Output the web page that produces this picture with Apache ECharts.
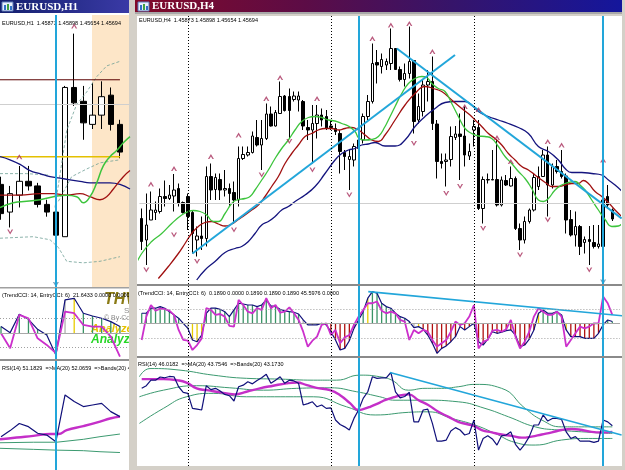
<!DOCTYPE html>
<html>
<head>
<meta charset="utf-8">
<script src="https://cdn.jsdelivr.net/npm/echarts@6/dist/echarts.min.js"></script>
<style>
    html, body { margin: 0; padding: 0; background: #d4d0c8; }
    #main { width: 625px; height: 470px; }
</style>
</head>
<body>
<div id="main"></div>
<script>
// ---------- EURUSD,H4 : candles [open, close, low, high] ----------
var h4Candles = [
    [1.4570, 1.4524, 1.4507, 1.4590], [1.4527, 1.4557, 1.4477, 1.4620], [1.4567, 1.4587, 1.4567, 1.4624], [1.4582, 1.4587, 1.4567, 1.4604],
    [1.4584, 1.4614, 1.4580, 1.4630], [1.4614, 1.4610, 1.4594, 1.4646], [1.4610, 1.4617, 1.4607, 1.4637], [1.4615, 1.4627, 1.4584, 1.4659],
    [1.4630, 1.4600, 1.4594, 1.4640], [1.4602, 1.4582, 1.4580, 1.4604], [1.4614, 1.4574, 1.4547, 1.4620], [1.4582, 1.4540, 1.4500, 1.4587],
    [1.4527, 1.4535, 1.4494, 1.4554], [1.4535, 1.4530, 1.4507, 1.4574], [1.4530, 1.4654, 1.4514, 1.4674], [1.4654, 1.4627, 1.4607, 1.4680],
    [1.4628, 1.4652, 1.4607, 1.4660], [1.4648, 1.4627, 1.4607, 1.4660], [1.4627, 1.4630, 1.4614, 1.4667], [1.4630, 1.4620, 1.4594, 1.4640],
    [1.4622, 1.4607, 1.4560, 1.4644], [1.4607, 1.4690, 1.4594, 1.4714], [1.4690, 1.4698, 1.4687, 1.4714], [1.4697, 1.4702, 1.4694, 1.4714],
    [1.4702, 1.4735, 1.4700, 1.4744], [1.4732, 1.4717, 1.4714, 1.4767], [1.4717, 1.4730, 1.4667, 1.4767], [1.4730, 1.4779, 1.4727, 1.4800],
    [1.4779, 1.4755, 1.4754, 1.4794], [1.4755, 1.4782, 1.4754, 1.4787], [1.4780, 1.4814, 1.4780, 1.4844], [1.4815, 1.4786, 1.4784, 1.4817],
    [1.4814, 1.4786, 1.4730, 1.4830], [1.4808, 1.4815, 1.4804, 1.4824], [1.4807, 1.4815, 1.4784, 1.4824], [1.4804, 1.4755, 1.4747, 1.4807],
    [1.4752, 1.4747, 1.4727, 1.4767], [1.4747, 1.4760, 1.4680, 1.4797], [1.4760, 1.4777, 1.4730, 1.4797], [1.4777, 1.4767, 1.4754, 1.4790],
    [1.4774, 1.4750, 1.4747, 1.4787], [1.4755, 1.4752, 1.4747, 1.4767], [1.4750, 1.4744, 1.4737, 1.4760], [1.4740, 1.4704, 1.4660, 1.4747],
    [1.4702, 1.4694, 1.4667, 1.4707], [1.4688, 1.4694, 1.4627, 1.4707], [1.4687, 1.4714, 1.4674, 1.4720], [1.4710, 1.4727, 1.4707, 1.4734],
    [1.4727, 1.4774, 1.4720, 1.4780], [1.4774, 1.4804, 1.4767, 1.4817], [1.4804, 1.4880, 1.4800, 1.4920], [1.4882, 1.4877, 1.4840, 1.4907],
    [1.4874, 1.4888, 1.4860, 1.4900], [1.4877, 1.4884, 1.4867, 1.4890], [1.4880, 1.4910, 1.4867, 1.4950], [1.4910, 1.4868, 1.4867, 1.4910],
    [1.4868, 1.4848, 1.4844, 1.4874], [1.4848, 1.4860, 1.4834, 1.4880], [1.4860, 1.4884, 1.4850, 1.4954], [1.4886, 1.4764, 1.4740, 1.4887],
    [1.4767, 1.4794, 1.4760, 1.4820], [1.4784, 1.4837, 1.4774, 1.4847], [1.4837, 1.4844, 1.4804, 1.4867], [1.4844, 1.4760, 1.4747, 1.4894],
    [1.4759, 1.4684, 1.4650, 1.4767], [1.4684, 1.4680, 1.4670, 1.4700], [1.4684, 1.4687, 1.4634, 1.4700], [1.4688, 1.4734, 1.4674, 1.4754],
    [1.4732, 1.4739, 1.4727, 1.4755], [1.4739, 1.4734, 1.4647, 1.4780], [1.4735, 1.4697, 1.4674, 1.4794], [1.4695, 1.4704, 1.4687, 1.4720],
    [1.4747, 1.4754, 1.4714, 1.4767], [1.4752, 1.4590, 1.4587, 1.4767], [1.4590, 1.4648, 1.4560, 1.4654], [1.4647, 1.4648, 1.4640, 1.4660],
    [1.4648, 1.4647, 1.4647, 1.4707], [1.4648, 1.4597, 1.4594, 1.4727], [1.4597, 1.4647, 1.4594, 1.4654], [1.4646, 1.4637, 1.4635, 1.4657],
    [1.4635, 1.4650, 1.4634, 1.4674], [1.4650, 1.4550, 1.4547, 1.4654], [1.4550, 1.4527, 1.4507, 1.4560], [1.4527, 1.4564, 1.4520, 1.4574],
    [1.4564, 1.4587, 1.4560, 1.4590], [1.4587, 1.4652, 1.4584, 1.4660], [1.4634, 1.4654, 1.4627, 1.4674], [1.4654, 1.4697, 1.4654, 1.4707],
    [1.4697, 1.4637, 1.4574, 1.4714], [1.4637, 1.4674, 1.4630, 1.4680], [1.4674, 1.4664, 1.4660, 1.4687], [1.4664, 1.4654, 1.4650, 1.4707],
    [1.4655, 1.4567, 1.4540, 1.4660], [1.4568, 1.4537, 1.4534, 1.4587], [1.4537, 1.4554, 1.4514, 1.4584], [1.4554, 1.4514, 1.4497, 1.4557],
    [1.4522, 1.4528, 1.4500, 1.4534], [1.4528, 1.4524, 1.4477, 1.4555], [1.4522, 1.4514, 1.4510, 1.4557], [1.4514, 1.4519, 1.4510, 1.4557],
    [1.4514, 1.4607, 1.4507, 1.4674], [1.4614, 1.4597, 1.4590, 1.4637], [1.4587, 1.4569, 1.4565, 1.4590]
];

// moving averages [bar, price]
var h4Green = [[-1.45, 1.4474], [0, 1.4500], [2.16, 1.4524], [4.33, 1.4540], [6.5, 1.4560], [8.67, 1.4577], [10.11, 1.4584], [11.19, 1.4586],
    [12.64, 1.4584], [14.08, 1.4577], [15.53, 1.4564], [16.61, 1.4564], [18.06, 1.4580], [19.5, 1.4600], [20.59, 1.4607], [22.39, 1.4610],
    [23.48, 1.4614], [24.56, 1.4627], [26.01, 1.4647], [27.45, 1.4667], [28.9, 1.4690], [30.34, 1.4710], [31.79, 1.4727], [33.23, 1.4747],
    [34.68, 1.4764], [36.12, 1.4772], [37.57, 1.4774], [39.01, 1.4772], [40.46, 1.4767], [41.9, 1.4765], [43.35, 1.4760], [44.79, 1.4755],
    [46.24, 1.4744], [47.11, 1.4730], [48.41, 1.4727], [49.85, 1.4728], [51.3, 1.4734], [52.74, 1.4754], [53.46, 1.4767], [54.91, 1.4794],
    [56.35, 1.4820], [57.8, 1.4840], [59.24, 1.4850], [60.69, 1.4854], [61.77, 1.4852], [62.85, 1.4840], [64.3, 1.4830], [65.74, 1.4824],
    [67.19, 1.4800], [68.63, 1.4774], [70.08, 1.4750], [71.52, 1.4740], [72.97, 1.4735], [74.41, 1.4734], [75.86, 1.4730], [77.3, 1.4714],
    [78.75, 1.4694], [80.19, 1.4680], [81.64, 1.4664], [83.08, 1.4650], [84.53, 1.4630], [85.97, 1.4607], [87.06, 1.4604], [88.14, 1.4610],
    [89.59, 1.4627], [91.03, 1.4637], [92.48, 1.4642], [93.92, 1.4644], [95.01, 1.4637], [96.09, 1.4627], [97.54, 1.4607], [98.98, 1.4587],
    [100.43, 1.4568], [101.87, 1.4554], [103.32, 1.4555], [104.4, 1.4564]];
var h4Red = [[3.61, 1.4450], [5.78, 1.4474], [7.94, 1.4500], [9.39, 1.4520], [10.83, 1.4540], [12.28, 1.4554], [13.72, 1.4562], [15.17, 1.4564],
    [16.61, 1.4559], [18.06, 1.4555], [19.5, 1.4559], [20.95, 1.4568], [22.39, 1.4577], [23.84, 1.4587], [25.28, 1.4597], [26.73, 1.4614],
    [28.17, 1.4634], [29.62, 1.4654], [31.06, 1.4680], [32.51, 1.4700], [33.95, 1.4717], [35.4, 1.4734], [36.84, 1.4740], [38.29, 1.4747],
    [39.73, 1.4750], [41.18, 1.4750], [42.62, 1.4747], [44.07, 1.4750], [45.51, 1.4752], [46.96, 1.4747], [48.41, 1.4737], [49.85, 1.4727],
    [51.3, 1.4724], [52.74, 1.4737], [54.91, 1.4767], [57.07, 1.4797], [59.24, 1.4820], [61.41, 1.4834], [63.21, 1.4830], [65.02, 1.4824],
    [67.19, 1.4807], [69.36, 1.4790], [71.16, 1.4777], [72.25, 1.4767], [73.69, 1.4754], [75.14, 1.4740], [76.58, 1.4730], [78.03, 1.4717],
    [79.47, 1.4700], [80.92, 1.4687], [82.36, 1.4674], [83.81, 1.4667], [85.25, 1.4657], [86.7, 1.4647], [87.78, 1.4640], [88.86, 1.4634],
    [90.31, 1.4634], [91.76, 1.4637], [93.2, 1.4640], [94.65, 1.4640], [95.73, 1.4646], [96.81, 1.4640], [98.26, 1.4624], [99.7, 1.4614],
    [101.15, 1.4602], [102.59, 1.4587], [104.04, 1.4574]];
var h4Navy = [[11.92, 1.4447], [13.72, 1.4467], [15.89, 1.4484], [18.06, 1.4502], [20.23, 1.4510], [21.67, 1.4514], [23.12, 1.4524],
    [24.56, 1.4540], [26.01, 1.4557], [27.45, 1.4564], [28.9, 1.4574], [30.34, 1.4587], [31.79, 1.4594], [33.23, 1.4604], [35.4, 1.4617],
    [37.57, 1.4634], [39.73, 1.4660], [41.9, 1.4687], [43.35, 1.4700], [44.79, 1.4707], [46.24, 1.4710], [47.68, 1.4717], [49.13, 1.4719],
    [50.57, 1.4722], [52.74, 1.4715], [54.91, 1.4715], [57.07, 1.4727], [59.24, 1.4754], [61.41, 1.4774], [63.58, 1.4790], [65.74, 1.4802],
    [67.91, 1.4804], [70.08, 1.4804], [71.52, 1.4797], [72.97, 1.4784], [75.14, 1.4774], [77.3, 1.4767], [79.47, 1.4760], [81.64, 1.4752],
    [83.81, 1.4740], [85.97, 1.4714], [88.14, 1.4704], [90.31, 1.4687], [91.76, 1.4670], [93.2, 1.4662], [95.37, 1.4662], [97.54, 1.4660],
    [99.7, 1.4657], [101.15, 1.4647], [102.59, 1.4637], [104.04, 1.4625]];

var h4FractalUp = [[2, 1.4639], [7, 1.4670], [15, 1.4694], [21, 1.4737], [27, 1.4810], [30, 1.4852], [38, 1.4810], [50, 1.4930],
    [54, 1.4957], [58, 1.4960], [63, 1.4904], [70, 1.4794], [73, 1.4788], [77, 1.4732], [80, 1.4684], [88, 1.4724], [91, 1.4717], [100, 1.4687]];
var h4FractalDown = [[1, 1.4467], [7, 1.4537], [12, 1.4484], [20, 1.4547], [26, 1.4657], [32, 1.4724], [37, 1.4667], [45, 1.4617],
    [59, 1.4720], [66, 1.4620], [69, 1.4634], [74, 1.4550], [82, 1.4497], [88, 1.4567], [97, 1.4467]];
var h4TrendUp = [[11, 1.4500], [67.9, 1.4897]];
var h4TrendDown = [[55.3, 1.4910], [104, 1.4570]];
var h4Separators = [10, 41, 72];
var h4BlueLines = [47, 100];
var h4Bid = 1.4569;
var h4LineArrow = [[100, 1.4443]];

// ---------- EURUSD,H4 : TrendCCI(14) / EntryCCI(6) ----------
var cciTrend = [69, 69, 104, 104, 115, 104, 80, 58, 35, 0, -35, -115, -127, -81, 69, 104, 104, 97, 80, 46,
    92, 138, 133, 126, 126, 115, 126, 161, 120, 115, 97, 85, 80, 76, 64, 23, -11, -11, -11, 0,
    -11, -58, -115, -184, -173, -120, -35, 23, 80, 173, 218, 207, 138, 115, 104, 69, 46, 35, 12, -30,
    -23, -41, -81, -138, -207, -173, -156, -127, -92, -23, -46, -23, 0, -127, -150, -110, -58, -69, -62, -51,
    -46, -81, -161, -150, -110, -46, 69, 92, 69, 69, 80, 58, -46, -92, -92, -92, -104, -104, -104, -69,
    -11, 23, 12];
var cciEntry = [-115, 46, 126, 87, 101, 97, 87, 58, -46, -115, -120, -184, -150, -104, 104, 92, 58, 64, 46, -18,
    -23, 161, 126, 80, 69, 104, 92, 173, 104, 126, 74, 80, 110, 69, 23, -58, -161, -120, -92, -11,
    0, -81, -46, -138, -97, -81, -11, 46, 92, 138, 138, 150, 87, 69, 80, 69, 23, 12, -115, -46,
    -69, -46, -58, -115, -161, -138, -115, -58, 12, -11, 0, 46, 126, -173, -127, -115, -51, -46, -58, -41,
    23, -92, -173, -127, -58, 46, 104, 80, 58, 58, 80, 46, -161, -115, -69, -23, -35, -23, 0, 0,
    184, 138, 58];
// histogram state per bar: g = up, r = down, y = change, x = neutral
var cciState = ['ggggggggg', 'xx', 'yyy', 'ggggggggggggggggggggg', 'xx', 'y', 'gg', 'x', 'rrrrrr', 'gg', 'y',
    'ggggggggg', 'x', 'y', 'rrrrrrrrrrrrrrrrrrrrrrrrr', 'y', 'ggggg', 'y', 'rrrrrrr', 'x', 'gg'].join('');
var cciTrendLine = [[49.1, 218], [104.4, 51]];

// ---------- EURUSD,H4 : RSI(14), MA(20), Bands(20) ----------
var rsiH4 = [60.2, 61.2, 63.3, 63.3, 64.5, 64.2, 64.7, 64.6, 60.8, 58.7, 58.3, 52.6, 52.3, 52.0, 61.2, 59.7, 60.2, 59.2, 57.9, 57.4,
    55.4, 60.8, 61.4, 62.7, 61.9, 63.2, 64.2, 65.5, 62.1, 63.3, 64.6, 62.1, 63.3, 63.0, 62.1, 53.9, 54.4, 55.1, 53.2, 53.9,
    52.6, 52.8, 48.2, 46.5, 45.6, 44.4, 48.8, 52.0, 56.4, 58.9, 64.6, 64.0, 64.2, 64.2, 66.2, 58.9, 56.6, 57.1, 58.7, 47.5,
    47.5, 52.0, 52.3, 46.9, 40.2, 40.2, 40.6, 44.0, 45.3, 44.4, 42.5, 43.1, 48.2, 36.8, 41.2, 42.2, 41.0, 38.7, 42.2, 42.5,
    43.7, 39.0, 36.8, 39.0, 41.9, 46.3, 46.3, 50.1, 47.8, 48.8, 48.8, 48.4, 43.7, 41.2, 41.9, 40.2, 40.2, 40.2, 39.7, 40.2,
    48.2, 47.5, 46.0];
var rsiMaH4 = [[0, 63.7], [1.8, 63.7], [4.7, 63.7], [7.6, 63.3], [9.7, 62.4], [11.9, 60.2], [14.1, 59.5], [16.2, 58.9], [18.4, 58.3],
    [20.2, 57.9], [22.7, 58.9], [25.6, 60.2], [28.5, 61.2], [31.4, 62.1], [33.6, 62.4], [35.8, 61.4], [37.9, 60.4], [40.8, 59.5],
    [43, 57.6], [45.2, 54.5], [47, 52.0], [48, 52.3], [49.5, 53.2], [51.6, 54.8], [52.7, 55.7], [54.9, 57.0], [56.3, 57.6], [57.8, 57.9],
    [60, 55.7], [62.1, 53.9], [64.3, 51.3], [66.5, 49.4], [68.6, 47.5], [70.8, 46.5], [72.1, 45.9], [73.7, 44.4], [75.9, 43.5],
    [78, 42.7], [80.2, 42.2], [82.4, 41.5], [84.5, 41.9], [86.7, 42.7], [88.9, 43.5], [91, 44.4], [93.2, 44.8], [95.4, 44.4],
    [97.5, 43.7], [99.7, 43.5], [102, 43.7]];
var rsiBandUpH4 = [[-0.5, 64.6], [1.8, 67.7], [8.3, 67.1], [15.5, 65.2], [22.7, 64.0], [30, 63.7], [37.2, 63.3], [42.2, 63.3], [47.3, 65.2],
    [51.6, 64.6], [54.2, 63.3], [57.8, 59.5], [61.4, 60.2], [65, 60.2], [68.6, 60.8], [72.2, 61.7], [78, 60.2], [83.1, 52.6], [86.7, 48.2],
    [91, 45.6], [95.4, 45.6], [102, 45.6]];
var rsiBandMidH4 = [[-0.5, 57.0], [4.7, 59.5], [11.9, 61.2], [19.1, 60.4], [26.4, 59.5], [33.6, 60.2], [40.8, 60.4], [46.6, 58.9],
    [51.6, 57.0], [54.9, 55.7], [61.4, 55.7], [68.6, 55.1], [74.4, 52.6], [79.5, 49.4], [85.3, 45.6], [90.3, 44.4], [97.5, 43.5], [102, 43.1]];
var rsiBandLowH4 = [[-0.5, 46.9], [4.7, 52.6], [9.7, 57.0], [15.5, 58.3], [22.7, 57.0], [30, 57.0], [37.2, 57.0], [44.4, 53.2],
    [50.6, 50.1], [57.8, 51.1], [62.1, 51.3], [67.2, 48.8], [72.2, 46.3], [76.6, 43.1], [80.9, 39.7], [85.3, 38.7], [91, 40.6],
    [96.8, 41.2], [102, 41.2]];
var rsiTrendLine = [[53.8, 66.2], [104, 42.5]];

// ---------- EURUSD,H1 ----------
var h1Candles = [
    [1.4548, 1.4529, 1.4525, 1.4553], [1.4530, 1.4542, 1.4520, 1.4547], [1.4541, 1.4550, 1.4533, 1.4560], [1.4550, 1.4547, 1.4544, 1.4560],
    [1.4547, 1.4535, 1.4533, 1.4549], [1.4535, 1.4530, 1.4527, 1.4538], [1.4530, 1.4515, 1.4514, 1.4530], [1.4514, 1.4611, 1.4514, 1.4612],
    [1.4611, 1.4601, 1.4599, 1.4646], [1.4602, 1.4588, 1.4577, 1.4612], [1.4587, 1.4593, 1.4584, 1.4614], [1.4593, 1.4605, 1.4584, 1.4615],
    [1.4606, 1.4587, 1.4583, 1.4611], [1.4587, 1.4569, 1.4565, 1.4590]
];
var h1Navy = [[-0.11, 1.4566], [0.98, 1.4564], [2.08, 1.4561], [3.17, 1.4557], [4.26, 1.4555], [5.36, 1.4553], [6.45, 1.4552],
    [7.54, 1.4551], [8.63, 1.4550], [9.73, 1.4549], [10.82, 1.4549], [11.91, 1.4549], [13, 1.4548], [14.1, 1.4545]];
var h1Red = [[-0.11, 1.4541], [2.08, 1.4541], [4.26, 1.4542], [5.72, 1.4542], [7.18, 1.4541], [8.63, 1.4542], [9.73, 1.4540],
    [10.82, 1.4538], [11.55, 1.4540], [12.28, 1.4545], [13.37, 1.4553], [14.1, 1.4557]];
var h1Green = [[-0.11, 1.4533], [1.35, 1.4536], [2.8, 1.4537], [4.26, 1.4538], [5.72, 1.4540], [7.18, 1.4541], [8.27, 1.4540],
    [9, 1.4536], [9.73, 1.4540], [10.46, 1.4549], [11.18, 1.4560], [11.91, 1.4566], [12.64, 1.4570], [13.37, 1.4575], [14.1, 1.4579]];
var h1BandA = [[-0.11, 1.4555], [2.8, 1.4555], [5.36, 1.4554]];
var h1BandB = [[5.9, 1.4533], [7.18, 1.4583], [8.27, 1.4600], [9.36, 1.4608], [10.46, 1.4618], [11.55, 1.4625], [13, 1.4628]];
var h1BandC = [[-0.11, 1.4513], [3.53, 1.4514], [5.36, 1.4512], [6.27, 1.4507], [7.18, 1.4498], [9, 1.4497], [10.82, 1.4498], [13, 1.4501]];
var h1BandD = [[6.27, 1.4537], [7.72, 1.4553], [9.36, 1.4558], [10.82, 1.4562], [13, 1.4564]];
var h1Resistance = [[-0.11, 1.4616], [13, 1.4616]];
var h1Support = [[-0.11, 1.4566], [13, 1.4566]];
var h1FractalUp = [[2, 1.4566], [8, 1.4651]];
var h1FractalDown = [[1, 1.4517]];
var h1BlueLines = [6];
var h1LineArrow = [[6, 1.4483]];

var cciTrendH1 = [46, 4, 131, 96, 27, -12, -150, 230, 241, 138, 119, 103, 80, 46];
var cciEntryH1 = [0, -104, 126, 103, -35, -81, -138, 149, 138, 57, 46, 46, -23, -161];
var cciStateH1 = 'ggggggxxyggggg';

var rsiH1 = [43.6, 45.9, 48.6, 47.4, 44.9, 44.2, 41.7, 59.4, 56.9, 55.0, 55.6, 56.2, 53.1, 51.2];
var rsiMaH1 = [[-0.11, 42.6], [1.71, 43.3], [3.53, 43.9], [5.36, 44.6], [6.27, 44.6], [7.18, 46.1], [9, 47.6], [10.82, 49.3], [11.91, 50.5], [13, 51.2]];
var rsiBandUpH1 = [[-0.11, 41.3], [3.53, 41.5], [6.08, 41.5], [9, 42.6], [10.82, 43.6], [13, 44.6]];
var rsiBandLowH1 = [[-0.11, 39.2], [3.53, 38.8], [6.08, 38.5], [9, 38.3], [10.82, 37.9], [13, 37.6]];

// ---------- texts ----------
var headerH4 = 'EURUSD,H4  1.45873 1.45898 1.45654 1.45694';
var headerH1 = 'EURUSD,H1  1.45873 1.45898 1.45654 1.45694';
var cciHeaderH4 = '(TrendCCI: 14, EntryCCI: 6)  0.1890 0.0000 0.1890 0.1890 0.1890 45.5976 0.0000';
var cciHeaderH1 = '(TrendCCI: 14, EntryCCI: 6)  21.6433 0.0000 0.0000 0.0000';
var rsiHeaderH4 = 'RSI(14) 46.0182  =>MA(20) 43.7546  =>Bands(20) 43.1730';
var rsiHeaderH1 = 'RSI(14) 51.1829  =>MA(20) 52.0659  =>Bands(20) 49.0214';

// ---------- styles ----------
var CYAN = '#22a6da', FRACTAL = '#a8305c', HIST = {g: '#3a9466', r: '#b01010', y: '#e8cc00', x: '#b0b0b0'};
var UP_ARROW = 'path://M0,8 L5,0 L10,8 L7.6,8 L5,3.8 L2.4,8 Z';
var DOWN_ARROW = 'path://M0,0 L5,8 L10,0 L7.6,0 L5,4.2 L2.4,0 Z';
var SMALL_FONT = '5.5px "Liberation Sans", Arial, sans-serif';

function withIndex(rows) {
    return rows.map(function (d, i) { return [i].concat(d); });
}
function indexed(values) {
    return values.map(function (v, i) { return [i, v]; });
}
function line(g, data, color, width, extra) {
    var s = {
        type: 'line', xAxisIndex: g, yAxisIndex: g, data: data, symbol: 'none', silent: true, z: 3,
        lineStyle: {color: color, width: width}
    };
    for (var k in extra) s[k] = extra[k];
    return s;
}
function marks(items) {
    return {symbol: 'none', silent: true, label: {show: false}, animation: false, data: items};
}
function vMark(x, color, width, type) {
    return {xAxis: x, lineStyle: {color: color, width: width, type: type || 'solid'}};
}
function hMark(y, color, width, type) {
    return {yAxis: y, lineStyle: {color: color, width: width, type: type || 'solid'}};
}
function candles(g, rows, width, markItems) {
    return {
        type: 'candlestick', xAxisIndex: g, yAxisIndex: g, data: withIndex(rows), barWidth: width, silent: true, z: 2,
        encode: {x: 0, y: [1, 2, 3, 4]},
        itemStyle: {color: '#ffffff', color0: '#000000', borderColor: '#000000', borderColor0: '#000000', borderWidth: 1},
        markLine: marks(markItems)
    };
}
function fractals(g, data, symbol, color) {
    return {
        type: 'scatter', xAxisIndex: g, yAxisIndex: g, data: data, symbol: symbol, symbolSize: [6, 5],
        itemStyle: {color: color}, silent: true, z: 4
    };
}
function histogram(g, values, states, markItems) {
    return {
        type: 'bar', xAxisIndex: g, yAxisIndex: g, barWidth: 1.3, silent: true, z: 2,
        data: values.map(function (v, i) { return {value: [i, v], itemStyle: {color: HIST[states.charAt(i)]}}; }),
        markLine: marks(markItems)
    };
}

var h4Dotted = h4Separators.map(function (x) { return vMark(x, '#000', 1, [1, 2]); });
var h4Blue = h4BlueLines.map(function (x) { return vMark(x, CYAN, 2); });
var h1Blue = h1BlueLines.map(function (x) { return vMark(x, CYAN, 2); });
var cciLevels = [hMark(0, '#a8a8a8', 1), hMark(100, '#a0a0a0', 1, [1, 2]), hMark(-100, '#a0a0a0', 1, [1, 2])];

var series = [
    // H4 price
    candles(0, h4Candles, 3, h4Dotted.concat([hMark(h4Bid, '#cfcfcf', 1)])),
    line(0, h4Navy, '#14147e', 1.3, {smooth: true}),
    line(0, h4Red, '#a01010', 1.3, {smooth: true}),
    line(0, h4Green, '#3cc43c', 1.3, {smooth: true}),
    line(0, h4TrendUp, CYAN, 2, {z: 4}),
    line(0, h4TrendDown, CYAN, 2, {z: 4, markLine: marks(h4Blue)}),
    fractals(0, h4FractalUp, UP_ARROW, FRACTAL),
    fractals(0, h4FractalDown, DOWN_ARROW, FRACTAL),
    fractals(0, h4LineArrow, DOWN_ARROW, '#5a86a8'),
    // H4 CCI
    histogram(1, cciTrend, cciState, cciLevels.concat(h4Dotted)),
    line(1, indexed(cciTrend), '#10107a', 1.2),
    line(1, indexed(cciEntry), '#cc2fcc', 1.8),
    line(1, cciTrendLine, CYAN, 1.6, {z: 4, markLine: marks(h4Blue)}),
    // H4 RSI
    line(2, rsiBandUpH4, '#3c9a70', 1, {smooth: true, markLine: marks(h4Dotted)}),
    line(2, rsiBandMidH4, '#3c9a70', 1, {smooth: true}),
    line(2, rsiBandLowH4, '#3c9a70', 1, {smooth: true}),
    line(2, rsiMaH4, '#c42fc8', 2.4, {smooth: true}),
    line(2, indexed(rsiH4), '#10107a', 1.2),
    line(2, rsiTrendLine, CYAN, 1.6, {z: 4, markLine: marks(h4Blue)}),
    // H1 price
    candles(3, h1Candles, 6, [hMark(h4Bid, '#cfcfcf', 1)]),
    line(3, h1BandA, '#6f9f96', 0.8, {lineStyle: {color: '#6f9f96', width: 0.8, type: [3, 2]}}),
    line(3, h1BandB, '#6f9f96', 0.8, {lineStyle: {color: '#6f9f96', width: 0.8, type: [3, 2]}}),
    line(3, h1BandC, '#6f9f96', 0.8, {lineStyle: {color: '#6f9f96', width: 0.8, type: [3, 2]}}),
    line(3, h1BandD, '#6f9f96', 0.8, {lineStyle: {color: '#6f9f96', width: 0.8, type: [3, 2]}}),
    line(3, h1Resistance, '#5a0000', 1),
    line(3, h1Support, '#e4c000', 1.4),
    line(3, h1Navy, '#14147e', 1.3, {smooth: true}),
    line(3, h1Red, '#a01010', 1.3, {smooth: true}),
    line(3, h1Green, '#3cc43c', 1.5, {smooth: true, markLine: marks(h1Blue), z: 4}),
    fractals(3, h1FractalUp, UP_ARROW, FRACTAL),
    fractals(3, h1FractalDown, DOWN_ARROW, FRACTAL),
    fractals(3, h1LineArrow, DOWN_ARROW, '#5a86a8'),
    // H1 CCI
    histogram(4, cciTrendH1, cciStateH1, cciLevels),
    line(4, indexed(cciTrendH1), '#10107a', 1.2),
    line(4, indexed(cciEntryH1), '#cc2fcc', 1.8, {markLine: marks(h1Blue), z: 4}),
    // H1 RSI
    line(5, rsiBandUpH1, '#3c9a70', 1),
    line(5, rsiBandLowH1, '#3c9a70', 1),
    line(5, rsiMaH1, '#c42fc8', 2.4, {smooth: true}),
    line(5, indexed(rsiH1), '#10107a', 1.2, {markLine: marks(h1Blue), z: 4})
];

// panels: H4 (price, cci, rsi) then H1 (price, cci, rsi)
var grids = [
    {left: 139.4, top: 16, width: 480.6, height: 268},
    {left: 139.4, top: 286, width: 480.6, height: 70},
    {left: 139.4, top: 358, width: 480.6, height: 108},
    {left: 0, top: 15, width: 129, height: 272},
    {left: 0, top: 288, width: 129, height: 71},
    {left: 0, top: 361, width: 129, height: 109}
];
var xRanges = [[-0.5, 103.66], [-0.5, 103.66], [-0.5, 103.66], [-0.11, 13.99], [-0.11, 13.99], [-0.11, 13.99]];
var yRanges = [[1.4439, 1.4975], [-225.5, 257], [30.76, 71.7], [1.44813, 1.46581], [-178, 312], [30.98, 72.27]];

function axis(range, i) {
    return {type: 'value', gridIndex: i, min: range[0], max: range[1], show: false, scale: true, splitLine: {show: false}};
}

function text(x, y, str, font, color, z) {
    return {type: 'text', z: z, silent: true, style: {x: x, y: y, text: str, font: font, fill: color, verticalAlign: 'middle'}};
}
function rect(x, y, w, h, fill, z) {
    return {type: 'rect', z: z, silent: true, shape: {x: x, y: y, width: w, height: h}, style: {fill: fill}};
}
function gradient(stops) {
    return {type: 'linear', x: 0, y: 0, x2: 1, y2: 0, colorStops: stops};
}
function icon(x) {
    return [
        {type: 'rect', z: 6, silent: true, shape: {x: x, y: 2, width: 11, height: 9}, style: {fill: '#e6eefc', stroke: '#5a78b8', lineWidth: 1}},
        rect(x + 2, 5, 2, 5, '#3070c8', 7), rect(x + 5, 4, 2, 6, '#40a040', 7), rect(x + 8, 6, 2, 4, '#3070c8', 7)
    ];
}

var chrome = [
    // H1 window body
    rect(0, 13, 129, 457, '#ffffff', 0),
    rect(92, 15, 37, 272, '#fde6c8', 0),
    // watermark in the H1 CCI panel
    text(104, 300, 'THV', 'italic bold 16px "Liberation Sans", Arial', '#8a7a14', 1),
    text(124, 311, 'S', '8px "Liberation Sans", Arial', '#8c8c8c', 1),
    text(104, 318.5, '\u00a9 By Cobra', '7px "Liberation Sans", Arial', '#8c8c8c', 1),
    text(91, 328.5, 'Analyzer', 'italic bold 11px "Liberation Sans", Arial', '#e6c200', 1),
    text(91, 340, 'Analyzer', 'italic bold 12px "Liberation Sans", Arial', '#26d626', 1),
    text(2, 23.5, headerH1, SMALL_FONT, '#000', 1),
    text(2, 295, cciHeaderH1, SMALL_FONT, '#000', 1),
    text(2, 368, rsiHeaderH1, SMALL_FONT, '#000', 1),
    rect(0, 287, 129, 1.5, '#a0a0a0', 1),
    rect(0, 359, 129, 2, '#909090', 1),
    // H4 window frame covers anything spilling from the H1 window
    rect(129, 0, 496, 470, '#d4d0c8', 1.5),
    rect(137, 16, 485, 450, '#ffffff', 1.5),
    rect(137, 284, 485, 2, '#8a8a8a', 1.6),
    rect(137, 356, 485, 2, '#8a8a8a', 1.6),
    text(139, 20.5, headerH4, SMALL_FONT, '#000', 5),
    text(138, 293, cciHeaderH4, SMALL_FONT, '#000', 5),
    text(138, 364, rsiHeaderH4, SMALL_FONT, '#000', 5),
    // title bars
    rect(0, 0, 129, 13, gradient([{offset: 0, color: '#14206e'}, {offset: 1, color: '#3a3aa6'}]), 5),
    rect(135, 0, 487, 12, gradient([{offset: 0, color: '#820a28'}, {offset: 0.35, color: '#5c0c46'},
        {offset: 0.65, color: '#36146a'}, {offset: 1, color: '#14169c'}]), 5),
    rect(135, 12, 487, 2, '#a8a8a8', 5),
    text(16, 7, 'EURUSD,H1', 'bold 11px "Liberation Serif", serif', '#ffffff', 6),
    text(152, 6.5, 'EURUSD,H4', 'bold 11px "Liberation Serif", serif', '#ffffff', 6)
].concat(icon(2), icon(138));

var chart = echarts.init(document.getElementById('main'));
chart.setOption({
    animation: false,
    backgroundColor: '#d4d0c8',
    grid: grids,
    xAxis: xRanges.map(axis),
    yAxis: yRanges.map(axis),
    graphic: {elements: chrome},
    series: series
});
</script>
</body>
</html>
